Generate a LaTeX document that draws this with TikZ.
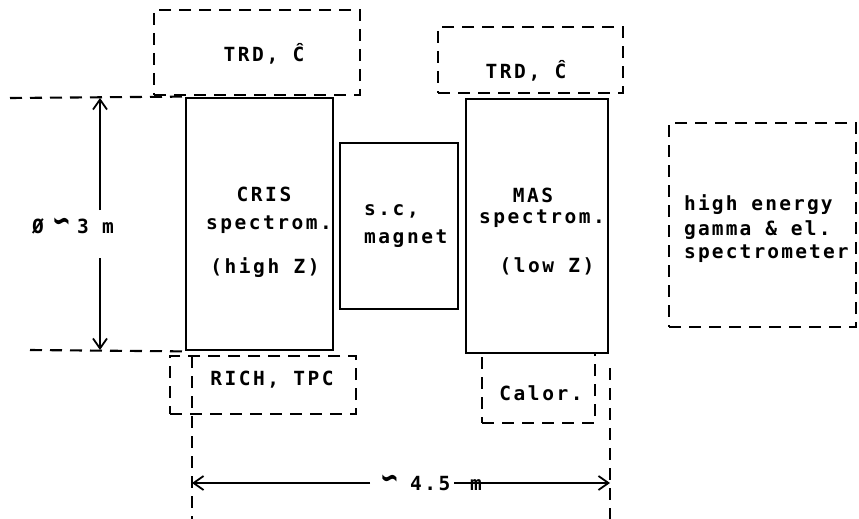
\documentclass[tikz,border=0pt]{standalone}
\usepackage{fontspec}
\usepackage{graphicx}
\newfontfamily\lbl[LetterSpace=13]{DejaVu Sans Mono Bold}
\newfontfamily\lblh[LetterSpace=11]{DejaVu Sans Mono Bold}
\newfontfamily\symf{DejaVu Sans Bold}
\newcommand{\wavesym}{\raisebox{1pt}{\scalebox{1.15}[1.8]{\symf∽}}}
\usetikzlibrary{arrows.meta,fit}
\tikzset{
  solidbox/.style={draw, line width=2.8pt, inner sep=0pt},
  dashbox/.style={draw, line width=2.1pt, dash pattern=on 12pt off 8pt, inner sep=0pt},
  dashline/.style={line width=2.1pt, dash pattern=on 12pt off 8pt},
  txtfont/.style={font=\lbl\fontsize{19.5}{22}\selectfont},
  txt/.style={txtfont, inner sep=0pt, anchor=base},
  txtl/.style={txt, anchor=base west},
  txth/.style={font=\lblh\fontsize{19.5}{22}\selectfont, inner sep=0pt, anchor=base west},
  dimline/.style={line width=1.8pt, -{Straight Barb[length=10pt,width=14pt,line width=1.8pt]}}
}
\begin{document}
\begin{tikzpicture}[x=1pt,y=-1pt]
\useasboundingbox (0,0) rectangle (859,519);

% boxes
\node[dashbox, fit={(154,10) (360,95)}] (trdA) {};
\node[dashbox, fit={(438,27) (623,93)}] (trdB) {};
\node[solidbox, fit={(186,98) (333,350)}] (cris) {};
\node[solidbox, fit={(340,143) (458,309)}] (magnet) {};
\node[solidbox, fit={(466,99) (608,353)}] (mas) {};
\node[dashbox, fit={(669,123) (856,327)}] (hegam) {};
\node[dashbox, fit={(170,356) (356,414)}] (rich) {};
\node[dashbox, fit={(482,353) (595,423)}] (calor) {};

% texts
\node[txt] (tA) at (264,62) {TRD, Ĉ};
\node[txt] (tB) at (526,78) {TRD, Ĉ};
\node[txt] (c1) at (264,201) {CRIS};
\node[txt] (c2) at (269,229) {spectrom.};
\node[txt] (c3) at (265,273) {(high Z)};
\node[txtl] (m1) at (364,215) {s.c,};
\node[txtl] (m2) at (364,243) {magnet};
\node[txt] (s1) at (533,202) {MAS};
\node[txt] (s2) at (542,223) {spectrom.};
\node[txt] (s3) at (547,272) {(low Z)};
\node[txth] (h1) at (684,210) {high energy};
\node[txth] (h2) at (684,235) {gamma \& el.};
\node[txth] (h3) at (684,258) {spectrometer};
\node[txt] (r1) at (272,385) {RICH, TPC};
\node[txt] (k1) at (541,400) {Calor.};

% reference lines
\coordinate (refT) at (10,98);
\coordinate (refB) at (30,350);
\draw[dashline] (refT) -- (cris.north west);
\draw[dashline] (refB) -- (cris.south west);
\coordinate (vL1) at (192,356);
\coordinate (vL2) at (192,519);
\coordinate (vR1) at (610,368);
\coordinate (vR2) at (610,519);
\draw[dashline] (vL1) -- (vL2);
\draw[dashline] (vR1) -- (vR2);

% diameter dimension
\coordinate (dT) at (100,98);
\coordinate (dB) at (100,350);
\coordinate (dgT) at (100,210);
\coordinate (dgB) at (100,258);
\node[txtl] (dlab) at (32,233) {\makebox[20pt][l]{Ø}\makebox[25pt][l]{\wavesym}\makebox[25pt][l]{3}m};
\draw[dimline] (dgT) -- (dT);
\draw[dimline] (dgB) -- (dB);

% length dimension
\coordinate (hL) at (192,483);
\coordinate (hR) at (610,483);
\coordinate (hgL) at (370,483);
\coordinate (hgR) at (454,483);
\node[txtl] (hlab) at (380,490) {\makebox[30pt][l]{\wavesym}4.5};
\node[txt] (hm) at (476,490) {m};
\draw[dimline] (hgL) -- (hL);
\draw[dimline] (hgR) -- (hR);
\end{tikzpicture}
\end{document}
